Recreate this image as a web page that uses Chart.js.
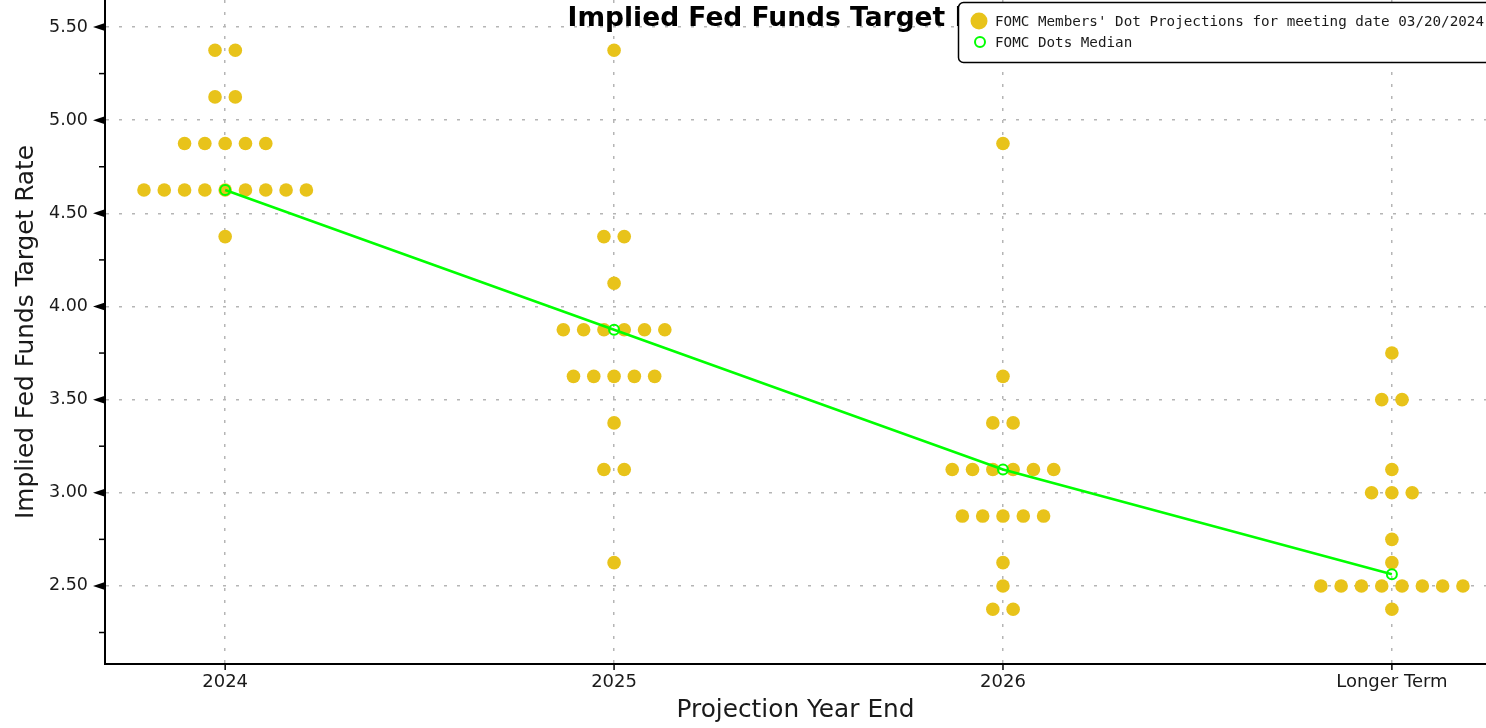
<!DOCTYPE html>
<html>
<head>
<meta charset="utf-8">
<script src="https://cdn.jsdelivr.net/npm/chart.js@4.4.1/dist/chart.umd.min.js"></script>
<style>
   html, body { margin: 0; padding: 0; background: #fff; }
</style>
</head>
<body>
<canvas id="grafico" width="1486" height="728"></canvas>
<script>
const categorias = ['2024', '2025', '2026', 'Longer Term']
// proyecciones individuales (una por miembro del FOMC)
const puntos2024 = [5.375, 5.375, 5.125, 5.125, 4.875, 4.875, 4.875, 4.875, 4.875,
   4.625, 4.625, 4.625, 4.625, 4.625, 4.625, 4.625, 4.625, 4.625, 4.375]
const puntos2025 = [5.375, 4.375, 4.375, 4.125, 3.875, 3.875, 3.875, 3.875, 3.875, 3.875,
   3.625, 3.625, 3.625, 3.625, 3.625, 3.375, 3.125, 3.125, 2.625]
const puntos2026 = [4.875, 3.625, 3.375, 3.375, 3.125, 3.125, 3.125, 3.125, 3.125, 3.125,
   2.875, 2.875, 2.875, 2.875, 2.875, 2.625, 2.5, 2.375, 2.375]
const puntosLargo = [3.75, 3.5, 3.5, 3.125, 3.0, 3.0, 3.0, 2.75, 2.625,
   2.5, 2.5, 2.5, 2.5, 2.5, 2.5, 2.5, 2.5, 2.375]
const medianas = [4.625, 3.875, 3.125, 2.5625]
const marcasY = [2.5, 3.0, 3.5, 4.0, 4.5, 5.0, 5.5]
const marcasMenores = [2.25, 2.75, 3.25, 3.75, 4.25, 4.75, 5.25]

const PASO = 0.0522
const AMARILLO = '#e8c31a'
const VERDE = '#00ff00'

// reparte los puntos repetidos a lo ancho de la categoria
function repartir(valores, indice) {
   const conteo = {}
   valores.forEach(v => conteo[v] = (conteo[v] || 0) + 1)
   const salida = []
   Object.keys(conteo).forEach(k => {
      const n = conteo[k]
      for (let i = 0; i < n; i++) {
         salida.push({ x: indice + (i - (n - 1) / 2) * PASO, y: parseFloat(k) })
      }
   })
   return salida
}

const todosPuntos = [puntos2024, puntos2025, puntos2026, puntosLargo]
   .map((p, i) => repartir(p, i)).flat()

const decorado = {
   id: 'decorado',
   afterDraw(chart) {
      const ctx = chart.ctx
      const area = chart.chartArea
      const y = chart.scales.y
      const x = chart.scales.x
      ctx.save()
      ctx.fillStyle = '#000'
      ctx.strokeStyle = '#000'
      ctx.lineWidth = 1.5
      marcasY.forEach(v => {
         const py = y.getPixelForValue(v)
         ctx.beginPath()
         ctx.moveTo(area.left, py - 4)
         ctx.lineTo(area.left - 12, py)
         ctx.lineTo(area.left, py + 4)
         ctx.closePath()
         ctx.fill()
      })
      marcasMenores.forEach(v => {
         const py = y.getPixelForValue(v)
         ctx.beginPath()
         ctx.moveTo(area.left - 6, py)
         ctx.lineTo(area.left, py)
         ctx.stroke()
      })
      categorias.forEach((c, i) => {
         const px = x.getPixelForValue(i)
         ctx.beginPath()
         ctx.moveTo(px, area.bottom)
         ctx.lineTo(px, area.bottom + 6)
         ctx.stroke()
      })

      // titulo
      ctx.font = 'bold 26.5px "DejaVu Sans"'
      ctx.textAlign = 'center'
      ctx.textBaseline = 'middle'
      ctx.fillText('Implied Fed Funds Target Rate', (area.left + area.right) / 2, 19)

      // leyenda
      ctx.beginPath()
      ctx.roundRect(958.5, 2.5, 540, 60, 5)
      ctx.fillStyle = '#fff'
      ctx.fill()
      ctx.lineWidth = 1.5
      ctx.strokeStyle = '#000'
      ctx.stroke()
      ctx.beginPath()
      ctx.arc(979, 21, 8.5, 0, Math.PI * 2)
      ctx.fillStyle = AMARILLO
      ctx.fill()
      ctx.beginPath()
      ctx.arc(980, 42, 5, 0, Math.PI * 2)
      ctx.strokeStyle = VERDE
      ctx.lineWidth = 2
      ctx.stroke()
      ctx.fillStyle = '#1a1a1a'
      ctx.font = '14.25px "DejaVu Sans Mono"'
      ctx.textAlign = 'left'
      ctx.fillText("FOMC Members' Dot Projections for meeting date 03/20/2024", 995, 22)
      ctx.fillText('FOMC Dots Median', 995, 43)
      ctx.restore()
   }
}

const ctx = document.getElementById('grafico').getContext('2d')
new Chart(ctx, {
   type: 'scatter',
   data: {
      datasets: [
         {
            type: 'line',
            label: 'FOMC Dots Median',
            data: medianas.map((v, i) => ({ x: i, y: v })),
            borderColor: VERDE,
            borderWidth: 2.5,
            pointRadius: 5,
            pointBorderWidth: 2,
            pointBorderColor: VERDE,
            pointBackgroundColor: 'rgba(0,0,0,0)',
            tension: 0
         },
         {
            label: "FOMC Members' Dot Projections for meeting date 03/20/2024",
            data: todosPuntos,
            backgroundColor: AMARILLO,
            borderWidth: 0,
            pointRadius: 6.8
         }
      ]
   },
   options: {
      responsive: false,
      animation: false,
      devicePixelRatio: 1,
      layout: { padding: 0, autoPadding: false },
      plugins: {
         legend: { display: false },
         title: { display: false },
         tooltip: { enabled: false }
      },
      scales: {
         x: {
            type: 'linear',
            min: -0.309,
            max: 3.242,
            afterBuildTicks: s => { s.ticks = categorias.map((c, i) => ({ value: i })) },
            afterFit: s => {
               s.height = 64
               s.paddingLeft = 0
               s.paddingRight = 0
            },
            ticks: {
               callback: v => categorias[v],
               color: '#1a1a1a',
               font: { family: 'DejaVu Sans', size: 18 },
               padding: 8,
               maxRotation: 0
            },
            grid: { color: '#b5b5b5', lineWidth: 1.5, drawTicks: false },
            border: { color: '#000', width: 2, dash: [3, 9] },
            title: {
               display: true,
               text: 'Projection Year End',
               color: '#1a1a1a',
               font: { family: 'DejaVu Sans', size: 24.8 },
               padding: { top: 0, bottom: 3 }
            }
         },
         y: {
            type: 'linear',
            min: 2.081,
            max: 5.645,
            afterBuildTicks: s => { s.ticks = marcasY.map(v => ({ value: v })) },
            afterFit: s => {
               s.width = 105
               s.paddingTop = 0
               s.paddingBottom = 0
            },
            ticks: {
               callback: v => v.toFixed(2),
               color: '#1a1a1a',
               font: { family: 'DejaVu Sans', size: 17.5 },
               padding: 17
            },
            grid: { color: '#b5b5b5', lineWidth: 1.5, drawTicks: false },
            border: { color: '#000', width: 2, dash: [3, 10] },
            title: {
               display: true,
               text: 'Implied Fed Funds Target Rate',
               color: '#1a1a1a',
               font: { family: 'DejaVu Sans', size: 24.8 },
               padding: { top: 12, bottom: 0 }
            }
         }
      }
   },
   plugins: [decorado]
})
</script>
</body>
</html>
